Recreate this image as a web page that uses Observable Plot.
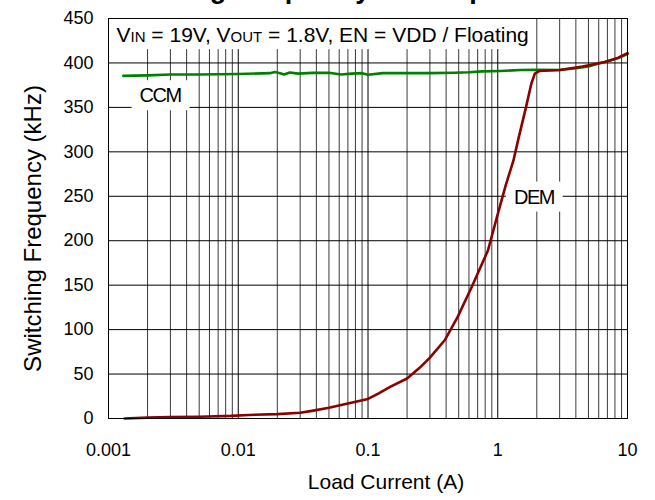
<!DOCTYPE html>
<html><head><meta charset="utf-8">
<script src="https://cdn.jsdelivr.net/npm/d3@7"></script>
<script src="https://cdn.jsdelivr.net/npm/@observablehq/plot@0.6"></script>
<style>
html,body{margin:0;padding:0;background:#fff;overflow:hidden;}
#wrap{position:relative;width:655px;height:500px;overflow:hidden;}
#title{position:absolute;left:30px;top:-24px;width:655px;text-align:center;font:bold 27px "Liberation Sans",Arial,sans-serif;line-height:27px;z-index:2;white-space:nowrap;}
</style></head><body>
<div id="wrap"><div id="title">Switching Frequency vs. Output Current</div><div id="chart"></div></div>
<script>
// CCM series (green)
const ccmCurrent = [0.0013, 0.002, 0.003, 0.005, 0.01, 0.0175, 0.0192, 0.021, 0.0225, 0.025, 0.029, 0.037, 0.05, 0.062, 0.075, 0.09, 0.1, 0.13, 0.2, 0.3, 0.46, 0.6, 0.76, 1.05, 1.5, 2, 3, 4, 5, 5.7, 7.3, 8.5, 10];
const ccmFreq = [385.5, 386, 387, 387, 387.5, 388.5, 389.8, 388.5, 387, 389.3, 388, 388.8, 389, 387, 388, 388.5, 386.7, 388.5, 388.5, 388.5, 389, 389.5, 390.5, 391, 392, 392.3, 392, 394, 396, 398.4, 402.5, 405.5, 410];
// DEM series (dark red)
const demCurrent = [0.00133, 0.002, 0.003, 0.005, 0.0088, 0.012, 0.02, 0.03, 0.037, 0.05, 0.07, 0.1, 0.12, 0.148, 0.2, 0.25, 0.3, 0.39, 0.49, 0.63, 0.84, 1.0, 1.15, 1.32, 1.45, 1.65, 1.81, 1.93, 2.1, 3.0, 4.5, 6.7, 8.5, 10];
const demFreq = [0, 1, 1.5, 2, 3, 4, 4.9, 6.5, 8.6, 12, 16.9, 22, 28, 35.6, 45, 57, 68.5, 88, 114, 148, 189, 230, 262, 290, 316, 350, 376, 388, 391, 392, 396, 401, 406, 411];

const yTicks = [0, 50, 100, 150, 200, 250, 300, 350, 400, 450];
const xTicks = [0.001, 0.01, 0.1, 1, 10];
const xTickLabels = ["0.001", "0.01", "0.1", "1", "10"];
const gridMultipliers = [2, 3, 4, 5, 6, 7, 8, 9];

const seriesNames = ["CCM", "DEM"];
const seriesLabelCurrent = [0.0025, 1.9];
const seriesLabelFreq = [363, 249];
const conditionText = "VIN = 19V, VOUT = 1.8V, EN = VDD / Floating";
const xLabel = "Load Current (A)";
const yLabel = "Switching Frequency (kHz)";

const ccm = ccmCurrent.map((x, i) => ({x, y: ccmFreq[i]}));
const dem = demCurrent.map((x, i) => ({x, y: demFreq[i]}));
const seriesLabels = seriesNames.map((t, i) => ({t, x: seriesLabelCurrent[i], y: seriesLabelFreq[i]}));
const minorGrid = xTicks.slice(0, -1).flatMap(d => gridMultipliers.map(m => d * m));
const labelMap = new Map(xTicks.map((t, i) => [t, xTickLabels[i]]));

const FONT = '"Liberation Sans", Arial, sans-serif';

const chart = Plot.plot({
  width: 655, height: 500,
  marginLeft: 108, marginRight: 28, marginTop: 18, marginBottom: 82,
  style: {fontFamily: FONT, fontSize: "18px", color: "#000", background: "#fff"},
  x: {type: "log", domain: [0.001, 10]},
  y: {domain: [0, 450]},
  marks: [
    Plot.ruleX(minorGrid, {stroke: "#3a3a3a", strokeWidth: 1}),
    Plot.ruleX(xTicks, {stroke: "#000", strokeWidth: 1}),
    Plot.ruleY(yTicks, {stroke: "#000", strokeWidth: 1}),
    Plot.text([conditionText], {x: xTicks[0], y: 431, text: d => d, textAnchor: "start", dx: 8, fontSize: 21}),
    Plot.text(seriesLabels, {x: "x", y: "y", text: "t", fontSize: 20}),
    Plot.line(ccm, {x: "x", y: "y", stroke: "#008000", strokeWidth: 2.6}),
    Plot.line(dem, {x: "x", y: "y", stroke: "#8b0000", strokeWidth: 2.6}),
    Plot.axisX({ticks: xTicks, tickFormat: d => labelMap.get(d), tickSize: 0, tickPadding: 25, label: null}),
    Plot.axisY({ticks: yTicks, tickSize: 0, tickPadding: 15, label: null}),
    Plot.text([xLabel], {frameAnchor: "bottom", dx: 18, dy: 70, text: d => d, fontSize: 21, textAnchor: "middle"}),
    Plot.text([yLabel], {frameAnchor: "left", dx: -75, dy: 10, rotate: -90, text: d => d, fontSize: 24, textAnchor: "middle"}),
    Plot.frame({stroke: "#000", strokeWidth: 1})
  ]
});
document.getElementById("chart").append(chart);

const xs = chart.scale("x"), ys = chart.scale("y");
const frameLeft = xs.apply(xTicks[0]), frameTop = ys.apply(450);
const NS = "http://www.w3.org/2000/svg";

// white box placed behind a text, in the text's own coordinate space
function boxBehind(textEl, x, y, w, h) {
  const r = document.createElementNS(NS, "rect");
  r.setAttribute("x", x); r.setAttribute("y", y);
  r.setAttribute("width", w); r.setAttribute("height", h);
  r.setAttribute("fill", "#fff");
  r.setAttribute("stroke", "none");
  const tr = textEl.getAttribute("transform");
  if (tr) r.setAttribute("transform", tr);
  textEl.parentNode.insertBefore(r, textEl);
}

d3.select(chart).selectAll("text").each(function() {
  const t = this.textContent;
  if (t === conditionText) {
    while (this.firstChild) this.removeChild(this.firstChild);
    const parts = [["V", false], ["IN", true], [" = 19V, V", false], ["OUT", true], [" = 1.8V, EN = VDD / Floating", false]];
    for (const [s, small] of parts) {
      const ts = document.createElementNS(NS, "tspan");
      ts.textContent = s;
      if (small) ts.setAttribute("font-size", "15");
      this.appendChild(ts);
    }
    const b = this.getBBox();
    // frame's top-left corner expressed in the text's local space
    const pt = chart.createSVGPoint();
    pt.x = frameLeft; pt.y = frameTop;
    const loc = pt.matrixTransform(this.getCTM().inverse());
    const lx = loc.x + 1, ly = loc.y + 1;
    boxBehind(this, lx, ly, b.x + b.width + 5 - lx, b.y + b.height + 3 - ly);
  } else if (seriesNames.includes(t)) {
    this.style.letterSpacing = "-1.5px";
    const b = this.getBBox();
    boxBehind(this, b.x - 8, b.y - 4, b.width + 16, b.height + 8);
  }
});
</script>
</body></html>
